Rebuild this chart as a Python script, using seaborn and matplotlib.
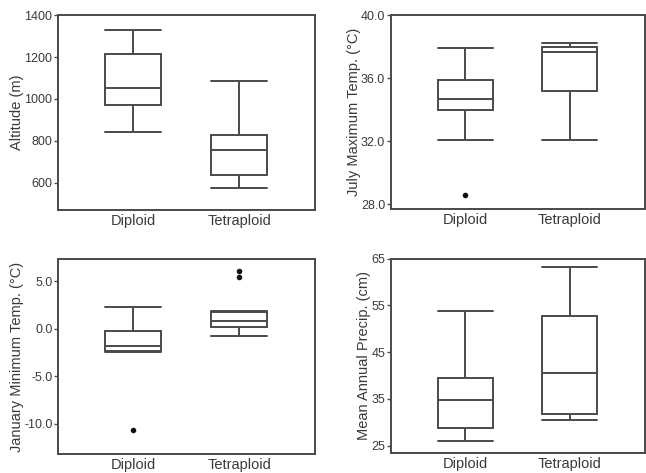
import matplotlib
matplotlib.use("Agg")
import matplotlib.pyplot as plt
import pandas as pd
import seaborn as sns

GROUPS = ["Diploid", "Tetraploid"]

altitude_diploid = [844, 900, 945, 971, 1000, 1030, 1054, 1090, 1150, 1213, 1250, 1290, 1330]
altitude_tetraploid = [575, 600, 625, 638, 680, 720, 756, 780, 805, 829, 900, 1000, 1086]

july_max_diploid = [28.6, 32.1, 33.2, 34.0, 34.3, 34.5, 34.7, 35.0, 35.5, 35.9, 36.6, 37.3, 37.9]
july_max_tetraploid = [32.1, 33.5, 34.6, 35.2, 36.0, 37.0, 37.65, 37.8, 37.9, 38.0, 38.1, 38.2, 38.25]

jan_min_diploid = [-10.7, -2.46, -2.4, -2.3, -2.1, -1.9, -1.79, -1.3, -0.7, -0.24, 0.5, 1.4, 2.32]
jan_min_tetraploid = [-0.77, -0.2, 0.1, 0.21, 0.5, 0.7, 0.81, 1.2, 1.6, 1.75, 1.85, 5.44, 6.15]

precip_diploid = [25.9, 27.0, 28.0, 28.8, 31.0, 33.0, 34.7, 36.0, 38.0, 39.4, 44.0, 49.0, 53.8]
precip_tetraploid = [30.5, 31.0, 31.5, 31.8, 34.0, 37.0, 40.5, 44.0, 48.0, 52.7, 56.0, 60.0, 63.2]

LINE = "#4a4a4a"
TEXT = "#3a3a3a"

sns.set_theme(style="white")
plt.rcParams["font.family"] = ["Liberation Sans", "DejaVu Sans"]


def long_form(diploid, tetraploid):
    return pd.DataFrame({
        "ploidy": [GROUPS[0]] * len(diploid) + [GROUPS[1]] * len(tetraploid),
        "value": list(diploid) + list(tetraploid),
    })


def draw_panel(ax, diploid, tetraploid, ylabel, ylim, yticks, fmt):
    df = long_form(diploid, tetraploid)
    sns.boxplot(data=df, x="ploidy", y="value", order=GROUPS, ax=ax,
                color="white", linecolor=LINE, linewidth=1.4, width=0.53,
                whis=1.5, capwidths=0.53,
                flierprops=dict(marker="o", markersize=3,
                                markerfacecolor="#111111",
                                markeredgecolor="#111111"))
    ax.set_xlim(-0.714, 1.72)
    ax.set_ylim(*ylim)
    ax.set_yticks(yticks)
    ax.set_yticklabels([fmt.format(t) for t in yticks])
    ax.set_xlabel("")
    ax.set_ylabel(ylabel, fontsize=10.5, color=TEXT, labelpad=0)
    ax.tick_params(axis="y", length=3, width=1, color=LINE, labelsize=9,
                   labelcolor=TEXT, pad=1, left=True)
    ax.tick_params(axis="x", length=0, labelsize=10.5, labelcolor=TEXT, pad=3)
    for sp in ax.spines.values():
        sp.set_color(LINE)
        sp.set_linewidth(1.4)


fig = plt.figure(figsize=(6.46, 4.73), dpi=100)
ax1 = fig.add_axes([0.0898, 0.556, 0.398, 0.412])
ax2 = fig.add_axes([0.605, 0.558, 0.393, 0.410])
ax3 = fig.add_axes([0.0898, 0.040, 0.398, 0.412])
ax4 = fig.add_axes([0.605, 0.042, 0.393, 0.411])

draw_panel(ax1, altitude_diploid, altitude_tetraploid, "Altitude (m)",
           (470, 1400), [600, 800, 1000, 1200, 1400], "{:.0f}")
draw_panel(ax2, july_max_diploid, july_max_tetraploid, "July Maximum Temp. (°C)",
           (27.7, 40.0), [28, 32, 36, 40], "{:.1f}")
draw_panel(ax3, jan_min_diploid, jan_min_tetraploid, "January Minimum Temp. (°C)",
           (-13.2, 7.35), [-10, -5, 0, 5], "{:.1f}")
draw_panel(ax4, precip_diploid, precip_tetraploid, "Mean Annual Precip. (cm)",
           (23.4, 65), [25, 35, 45, 55, 65], "{:.0f}")

fig.savefig("out.png", dpi=100)
